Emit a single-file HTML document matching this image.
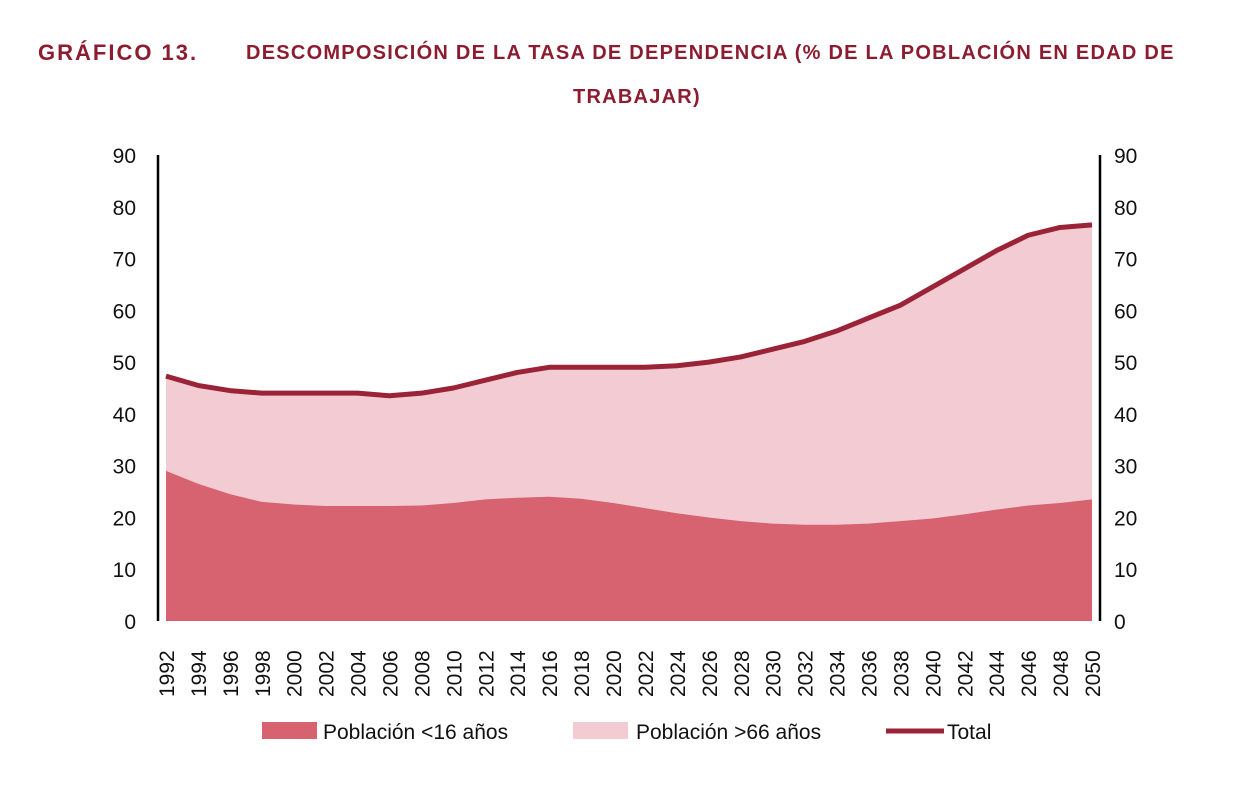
<!DOCTYPE html>
<html><head><meta charset="utf-8"><style>
body{margin:0;background:#fff;width:1248px;height:792px;overflow:hidden;font-family:"Liberation Sans",sans-serif}
.t{position:absolute;color:#8c1c30;font-weight:bold;font-size:20px;letter-spacing:1.25px;white-space:nowrap}
</style></head><body>
<div class="t" style="left:38px;top:40px;font-size:22px;letter-spacing:2px">GRÁFICO 13.</div>
<div class="t" style="left:246px;top:42px">DESCOMPOSICIÓN DE LA TASA DE DEPENDENCIA (% DE LA POBLACIÓN EN EDAD DE</div>
<div class="t" style="left:573px;top:86px">TRABAJAR)</div>
<svg id="c" width="1248" height="792" style="position:absolute;left:0;top:0"></svg>
<script>
const years=[1992,1994,1996,1998,2000,2002,2004,2006,2008,2010,2012,2014,2016,2018,2020,2022,2024,2026,2028,2030,2032,2034,2036,2038,2040,2042,2044,2046,2048,2050];
const under16=[29,26.5,24.5,23,22.5,22.2,22.2,22.2,22.3,22.8,23.5,23.8,24,23.6,22.8,21.8,20.8,20,19.3,18.8,18.6,18.6,18.8,19.3,19.8,20.6,21.5,22.3,22.8,23.5];
const total=[47.3,45.5,44.5,44,44,44,44,43.5,44,45,46.5,48,49,49,49,49,49.3,50,51,52.5,54,56,58.5,61,64.5,68,71.5,74.5,76,76.5];
const yTicks=[0,10,20,30,40,50,60,70,80,90];
const NS="http://www.w3.org/2000/svg",svg=document.getElementById('c');
const xs=i=>166+i*(1092-166)/(years.length-1);
const ys=v=>621-v*(621-155)/90;
function el(t,a,txt){const e=document.createElementNS(NS,t);for(const k in a)e.setAttribute(k,a[k]);if(txt!=null)e.textContent=txt;svg.appendChild(e);return e;}
let topPath='',lowPath='';
years.forEach((_,i)=>{topPath+=(i?'L':'M')+xs(i)+','+ys(total[i]);lowPath+=(i?'L':'M')+xs(i)+','+ys(under16[i]);});
const old=el('path',{d:topPath+'L1092,621L166,621Z',fill:'#f3cbd3'});


const yng=el('path',{d:lowPath+'L1092,621L166,621Z',fill:'#d6636f'});


const ln=el('path',{d:topPath,fill:'none',stroke:'#9b2337','stroke-width':5,'stroke-linejoin':'round'});


el('line',{x1:158,y1:155,x2:158,y2:621,stroke:'#000','stroke-width':2.5});
el('line',{x1:1100,y1:155,x2:1100,y2:621,stroke:'#000','stroke-width':2.5});
yTicks.forEach(v=>{
 const a=el('text',{x:136,y:ys(v)+8,'text-anchor':'end','font-size':21,fill:'#111'},v);
 
 
 const b=el('text',{x:1114,y:ys(v)+8,'font-size':21,fill:'#111'},v);
 
 
});
years.forEach((yr,i)=>{
 const t=el('text',{x:0,y:0,transform:`translate(${xs(i)+8},697) rotate(-90)`,'font-size':21,fill:'#111'},yr);
 
 
});
const lg=[['rect','#d6636f',262,'Población <16 años',323],['rect','#f3cbd3',573,'Población >66 años',636],['line','#9b2337',886,'Total',947]];
lg.forEach(([k,c,lx,txt,tx])=>{
 let r;
 if(k==='rect'){r=el('rect',{x:lx,y:722,width:55,height:17,fill:c});}
 else{r=el('line',{x1:lx,y1:731,x2:lx+58,y2:731,stroke:c,'stroke-width':5});}
 
 
 const t=el('text',{x:tx,y:739,'font-size':21,fill:'#111'},txt);
 
 
});
</script>
</body></html>
